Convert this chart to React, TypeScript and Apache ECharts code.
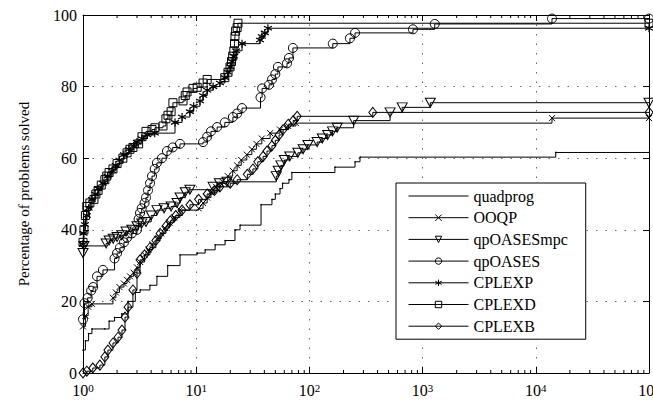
import React, { useEffect, useRef } from 'react';
import * as echarts from 'echarts';

const FONT = "'Liberation Serif', 'Times New Roman', 'DejaVu Serif', serif";

const seriesNames = ['quadprog', 'OOQP', 'qpOASESmpc', 'qpOASES', 'CPLEXP', 'CPLEXD', 'CPLEXB'];

const quadprog = [
  [1, 6.4], [1.05, 9], [1.12, 11], [1.2, 12.3], [1.55, 12.3], [1.7, 14.5], [1.9, 15.5], [2.2, 16.5],
  [2.5, 20], [2.9, 22.5], [3.2, 23.2], [3.9, 24.5], [4.5, 27], [5.6, 30], [7.2, 33], [10.2, 33.5],
  [12, 34.4], [14.7, 35.8], [18, 37], [22, 40], [24.4, 41.3], [37.4, 47], [46.7, 48.5], [50, 50],
  [55, 51.5], [58, 53], [66, 54], [70, 56], [168, 57.5], [253, 59], [280, 60.3], [15000, 61.6], [100000, 61.6],
];

const ooqp = [
  [1, 13], [1.05, 16], [1.11, 18.5], [1.2, 19.3], [1.84, 21], [1.95, 22.5], [2.1, 24], [2.3, 25],
  [2.45, 26], [2.6, 27], [2.8, 28], [3.0, 29.5], [3.2, 31], [3.5, 33], [3.8, 34.5], [4.1, 36],
  [4.5, 37.5], [4.9, 39], [5.3, 40.5], [5.8, 42], [6.4, 43.5], [7.2, 45.5], [10.5, 46], [11.5, 47.5],
  [12.5, 49], [13.5, 50.5], [15, 52], [17, 53.5], [19, 55], [21, 56.5], [23, 58], [25, 59.5],
  [28, 61], [31, 62.5], [34, 64], [38, 65.5], [45, 67], [55, 68], [65, 69], [76, 69.8],
  [13900, 71.2], [100000, 71.2],
];

const qpoasesMpc = [
  [1, 33.5], [1.02, 35.5], [1.6, 36.2], [1.7, 37], [1.85, 37.5], [2.0, 38], [2.2, 38.5], [2.4, 39.5],
  [2.7, 40], [3.0, 41], [3.3, 41.8], [3.6, 42.2], [4.0, 44], [4.5, 45.5], [5.2, 46], [6.0, 46.5],
  [6.77, 47.5], [7.2, 49], [8.0, 50.5], [8.8, 51.2], [14.1, 52], [16, 53], [18.7, 53.4], [51, 55],
  [53, 56.5], [56, 58], [60, 59.5], [67, 60.5], [79, 61.5], [88, 62.5], [97, 63.7], [117, 64.5],
  [130, 65.5], [145, 66.5], [160, 67.5], [176, 68.5], [246, 70.5], [516, 72.8], [660, 74.2],
  [1170, 75.5], [100000, 75.5],
];

const qpoases = [
  [1, 15], [1.03, 19.5], [1.1, 21], [1.18, 23], [1.23, 24], [1.33, 27], [1.5, 28.8], [1.9, 32],
  [2.0, 33.5], [2.12, 35], [2.3, 36.5], [2.45, 37.8], [2.7, 39], [3.0, 40], [3.1, 43], [3.19, 44.7],
  [3.3, 46], [3.5, 47.5], [3.6, 49], [3.75, 51], [3.91, 53], [4.07, 55], [4.3, 57], [4.5, 58.7],
  [4.98, 60], [5.52, 62], [6.2, 63], [7.19, 64], [11.5, 64.5], [12.5, 66], [13.5, 67.5], [15.3, 68.7],
  [17.9, 70], [21.1, 71.5], [23, 72.5], [25.4, 74], [37, 77], [38.2, 79.5], [44, 80.5], [46.7, 82],
  [50, 83.5], [52.7, 85.5], [63.4, 86.5], [66, 88], [71.5, 90.8], [161, 92], [228, 93.5], [253, 95],
  [822, 96], [1280, 97.5], [13900, 99], [100000, 99],
];

const cplexP = [
  [1, 36], [1.01, 39], [1.04, 41.5], [1.08, 44], [1.12, 46], [1.2, 48.5], [1.28, 50], [1.36, 51.5],
  [1.5, 53], [1.65, 55], [1.8, 56.5], [1.95, 58], [2.1, 59.5], [2.3, 61], [2.55, 62.5], [2.8, 63.5],
  [3.0, 64.5], [3.3, 65.5], [3.7, 66.5], [4.3, 67], [6.5, 70], [7.5, 71.5], [8.8, 73], [9.5, 74.5],
  [10.8, 76], [11.5, 77.5], [12.5, 79], [14.1, 80], [16.2, 81], [17.9, 82.5], [19, 84], [20, 85.5],
  [20.7, 87], [21.5, 88.5], [22.5, 90], [25.4, 92], [36.6, 93], [38, 94], [40.4, 95], [43, 96.3],
  [100000, 96.3],
];

const cplexD = [
  [1, 36.5], [1.02, 40], [1.05, 44], [1.08, 46.5], [1.15, 47.5], [1.25, 48.5], [1.3, 50], [1.36, 51],
  [1.45, 52.5], [1.56, 54], [1.62, 55], [1.7, 56], [1.84, 57], [2.0, 58.5], [2.25, 60], [2.45, 61.5],
  [2.6, 62.5], [2.76, 63], [3.1, 64], [3.32, 66], [3.6, 67.5], [4.07, 68], [4.32, 68.5], [5.09, 69],
  [5.4, 71], [5.63, 72], [6.0, 73], [6.23, 75.5], [7.65, 76], [8.0, 77.5], [8.3, 78.5], [9.37, 79.5],
  [10.2, 79.8], [11.5, 81], [12.5, 82], [17.9, 82.5], [19.1, 84], [19.9, 85.5], [20.5, 87], [21, 88.5],
  [21.5, 90], [21.8, 92], [22.0, 94], [22.3, 95.5], [23, 96.5], [23.4, 97.7], [100000, 97.7],
];

const cplexB = [
  [1, 0], [1.08, 0.5], [1.22, 1.4], [1.41, 2.2], [1.56, 4.5], [1.66, 6.4], [1.84, 8.4], [2.04, 10],
  [2.21, 12], [2.35, 15.6], [2.5, 18.4], [2.76, 23.2], [3.0, 27.9], [3.19, 31.6], [3.5, 33], [3.9, 35],
  [4.4, 37], [4.8, 39], [5.4, 41], [5.9, 42.5], [6.6, 44], [7.5, 45.5], [8.8, 47], [10.5, 48.5],
  [12.5, 50], [14.5, 51], [16.2, 52], [20, 53], [23, 54], [28.3, 55.5], [31.7, 57], [35, 59],
  [39, 60.5], [42.2, 62], [46.7, 63.5], [50, 65], [54, 66.5], [58.6, 68], [65, 69.5], [72, 70.5],
  [78, 71.7], [363, 72.8], [100000, 72.8],
];

const minorTickValues = [
  2, 3, 4, 5, 6, 7, 8, 9,
  20, 30, 40, 50, 60, 70, 80, 90,
  200, 300, 400, 500, 600, 700, 800, 900,
  2000, 3000, 4000, 5000, 6000, 7000, 8000, 9000,
  20000, 30000, 40000, 50000, 60000, 70000, 80000, 90000,
];

const STAR = 'path://M5,0L5,10M0.7,2.5L9.3,7.5M0.7,7.5L9.3,2.5';
const CROSS = 'path://M0,0L10,10M0,10L10,0';

function mk(name: string, data: number[][], symbol: string, size: number | number[], extra: any = {}) {
  return {
    name,
    type: 'line',
    data,
    step: 'end',
    symbol,
    symbolSize: size,
    showSymbol: true,
    clip: false,
    z: 3,
    lineStyle: { color: '#000', width: 1 },
    itemStyle: { color: 'rgba(0,0,0,0)', borderColor: '#000', borderWidth: 1 },
    emphasis: { disabled: true },
    ...extra,
  };
}

export default function App() {
  const ref = useRef<HTMLDivElement>(null);
  useEffect(() => {
    const chart = echarts.init(ref.current!, null, { renderer: 'svg' });
    const dotted = { type: [1.5, 8], color: '#666', width: 1 };
    const option: any = {
      animation: false,
      backgroundColor: '#fff',
      grid: { left: 83, right: 4, top: 15, bottom: 30, containLabel: false, outerBoundsMode: 'none' },
      xAxis: [
        {
          type: 'log', logBase: 10, min: 1, max: 100000, position: 'bottom',
          axisLine: { onZero: false, lineStyle: { color: '#000', width: 1 } },
          axisTick: { inside: true, length: 6, lineStyle: { color: '#000' } },
          axisLabel: {
            margin: 9, showMinLabel: true, showMaxLabel: true, hideOverlap: false,
            formatter: (v: number) => `{b|10}{s|${Math.round(Math.log10(v))}}`,
            rich: {
              b: { fontFamily: FONT, fontSize: 16, color: '#000' },
              s: { fontFamily: FONT, fontSize: 11, color: '#000', verticalAlign: 'top' },
            },
          },
          splitLine: { show: true, lineStyle: dotted },
        },
        {
          type: 'log', logBase: 10, min: 1, max: 100000, position: 'top',
          axisLine: { onZero: false, lineStyle: { color: '#000', width: 1 } },
          axisTick: { inside: true, length: 6, lineStyle: { color: '#000' } },
          axisLabel: { show: false },
          splitLine: { show: false },
        },
      ],
      yAxis: [
        {
          type: 'value', min: 0, max: 100, interval: 20, position: 'left',
          name: 'Percentage of problems solved', nameLocation: 'middle', nameGap: 52,
          nameTextStyle: { fontFamily: FONT, fontSize: 15, color: '#000' },
          axisLine: { show: true, onZero: false, lineStyle: { color: '#000', width: 1 } },
          axisTick: { show: true, inside: true, length: 6, lineStyle: { color: '#000' } },
          axisLabel: { margin: 6, fontFamily: FONT, fontSize: 16, color: '#000' },
          splitLine: { show: true, lineStyle: dotted },
        },
        {
          type: 'value', min: 0, max: 100, interval: 20, position: 'right',
          axisLine: { show: true, onZero: false, lineStyle: { color: '#000', width: 1 } },
          axisTick: { show: true, inside: true, length: 6, lineStyle: { color: '#000' } },
          axisLabel: { show: false },
          splitLine: { show: false },
        },
      ],
      legend: {
        orient: 'vertical', left: 396, top: 183,
        padding: [5, 18, 5, 12],
        itemWidth: 60, itemHeight: 8, itemGap: 5.7,
        backgroundColor: '#fff', borderColor: '#000', borderWidth: 1, borderRadius: 0,
        selectedMode: false,
        itemStyle: { borderWidth: 1 },
        lineStyle: { width: 1 },
        textStyle: { fontFamily: FONT, fontSize: 16, color: '#000', lineHeight: 16 },
        data: [
          { name: seriesNames[0], itemStyle: { opacity: 0 } },
          seriesNames[1], seriesNames[2], seriesNames[3], seriesNames[4], seriesNames[5], seriesNames[6],
        ],
      },
      series: [
        mk(seriesNames[0], quadprog, 'circle', 1.5, { itemStyle: { color: '#000' } }),
        mk(seriesNames[1], ooqp, CROSS, 6, { itemStyle: { color: '#000', borderColor: '#000', borderWidth: 1 } }),
        mk(seriesNames[2], qpoasesMpc, 'triangle', [10, 9], { symbolRotate: 180 }),
        mk(seriesNames[3], qpoases, 'circle', 9),
        mk(seriesNames[4], cplexP, STAR, 8, { itemStyle: { color: '#000', borderColor: '#000', borderWidth: 1.2 } }),
        mk(seriesNames[5], cplexD, 'rect', 8),
        mk(seriesNames[6], cplexB, 'diamond', [8, 10]),
        {
          type: 'custom', xAxisIndex: 0, yAxisIndex: 0, silent: true, clip: false, z: 4,
          data: minorTickValues.map((v) => [v, 0]),
          renderItem: (params: any, api: any) => {
            const v = api.value(0);
            const b = api.coord([v, 0]);
            const t = api.coord([v, 100]);
            return {
              type: 'group',
              children: [
                { type: 'line', shape: { x1: b[0], y1: b[1], x2: b[0], y2: b[1] - 3 }, style: { stroke: '#000', lineWidth: 1 } },
                { type: 'line', shape: { x1: t[0], y1: t[1], x2: t[0], y2: t[1] + 3 }, style: { stroke: '#000', lineWidth: 1 } },
              ],
            };
          },
        },
      ],
    };
    chart.setOption(option);
    return () => chart.dispose();
  }, []);
  return (
    <div
      ref={ref}
      style={{ position: 'fixed', left: 0, top: 0, width: 653, height: 403, background: '#fff' }}
    />
  );
}
